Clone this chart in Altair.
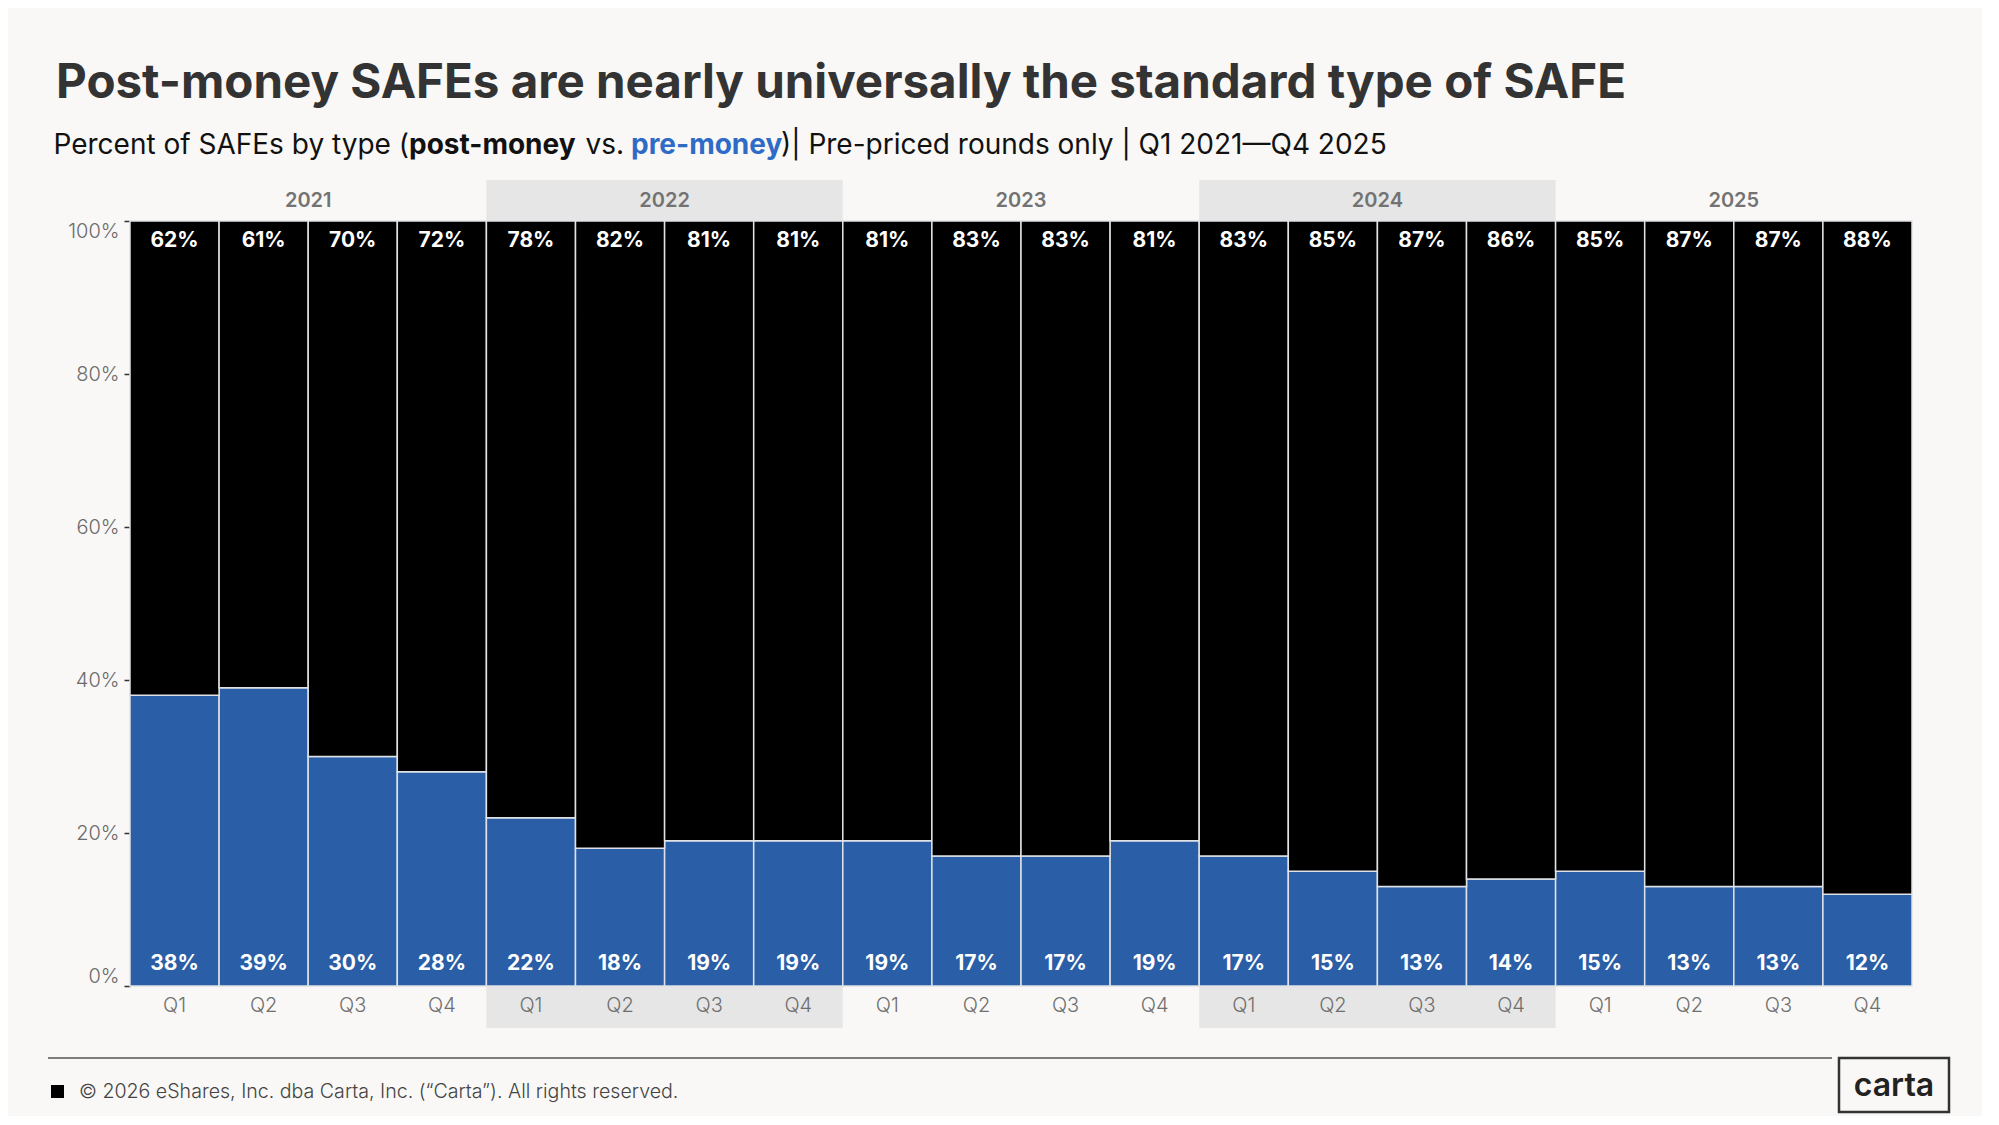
import altair as alt
import pandas as pd

years = ["2021", "2022", "2023", "2024", "2025"]
quarters = ["Q1", "Q2", "Q3", "Q4"]
post_money = [62, 61, 70, 72, 78, 82, 81, 81, 81, 83, 83, 81, 83, 85, 87, 86, 85, 87, 87, 88]
pre_money = [38, 39, 30, 28, 22, 18, 19, 19, 19, 17, 17, 19, 17, 15, 13, 14, 15, 13, 13, 12]
shaded_years = ["2022", "2024"]

FONT = "Inter"
BG = "#F9F8F6"
BLUE = "#2A5EA7"
BAND = "#E6E6E6"

W, H = 1782, 765

rows = []
for i in range(len(post_money)):
    rows.append({
        "idx": i,
        "year": years[i // 4],
        "quarter": quarters[i % 4],
        "post": post_money[i],
        "pre": pre_money[i],
    })
df = pd.DataFrame(rows)

ydf = pd.DataFrame({"year": years, "yi": list(range(len(years)))})
ydf["shaded"] = ydf["year"].isin(shaded_years)

xscale = alt.Scale(domain=[0, len(post_money)], nice=False, zero=False)
yscale = alt.Scale(domain=[0, 1], nice=False)

base = alt.Chart(df).transform_calculate(
    x0="datum.idx", x1="datum.idx + 1", xm="datum.idx + 0.5",
    pre_f="datum.pre / 100",
    pre_lab="datum.pre + '%'", post_lab="datum.post + '%'",
)

# year bands (top and bottom)
band_base = alt.Chart(ydf).transform_filter("datum.shaded").transform_calculate(
    b0="datum.yi * 4", b1="datum.yi * 4 + 4"
)
top_band = band_base.mark_rect(color=BAND).encode(
    x=alt.X("b0:Q", scale=xscale, axis=None), x2="b1:Q",
    y=alt.value(-41), y2=alt.value(0),
)
bottom_band = band_base.mark_rect(color=BAND).encode(
    x=alt.X("b0:Q", scale=xscale, axis=None), x2="b1:Q",
    y=alt.value(H), y2=alt.value(H + 42),
)

year_labels = alt.Chart(ydf).transform_calculate(bm="datum.yi * 4 + 2").mark_text(
    font=FONT, fontSize=20, fontWeight=600, color="#737373", baseline="middle"
).encode(
    x=alt.X("bm:Q", scale=xscale, axis=None), y=alt.value(-20), text="year:N"
)

pre_bars = base.mark_rect(color=BLUE, stroke="#dfe2e6", strokeWidth=1.5).encode(
    x=alt.X("x0:Q", scale=xscale, axis=None), x2="x1:Q",
    y=alt.Y("pre_f:Q", scale=yscale, title=None,
            axis=alt.Axis(format="%", values=[0, 0.2, 0.4, 0.6, 0.8, 1.0], labelFlush=True,
                          domain=False, grid=False, ticks=True, tickSize=6, tickColor="#333333",
                          tickWidth=1.5, labelColor="#6b6b6b", labelFontSize=20, labelFont=FONT,
                          labelFontWeight=300, labelPadding=5)),
    y2=alt.datum(0),
)
post_bars = base.mark_rect(color="#000000", stroke="#dfe2e6", strokeWidth=1.5).encode(
    x=alt.X("x0:Q", scale=xscale, axis=None), x2="x1:Q",
    y=alt.Y("pre_f:Q", scale=yscale), y2=alt.datum(1),
)

post_text = base.mark_text(font=FONT, fontSize=21, fontWeight="bold", color="white",
                           baseline="middle", dy=20).encode(
    x=alt.X("xm:Q", scale=xscale, axis=None), y=alt.datum(1), text="post_lab:N"
)
pre_text = base.mark_text(font=FONT, fontSize=21, fontWeight="bold", color="white",
                          baseline="middle", dy=-22).encode(
    x=alt.X("xm:Q", scale=xscale, axis=None), y=alt.datum(0), text="pre_lab:N"
)
q_text = base.mark_text(font=FONT, fontSize=20, fontWeight=300, color="#6f6f6f",
                        baseline="middle").encode(
    x=alt.X("xm:Q", scale=xscale, axis=None), y=alt.value(H + 20), text="quarter:N"
)

one = pd.DataFrame({"a": [0]})


def txt(s, x, y, size, color="#111111", weight="normal", align="left", baseline="alphabetic"):
    return alt.Chart(one).mark_text(
        text=s, font=FONT, fontSize=size, color=color, fontWeight=weight,
        align=align, baseline=baseline
    ).encode(x=alt.value(x), y=alt.value(y))


SUB = 28
title = txt("Post-money SAFEs are nearly universally the standard type of SAFE",
            -74, -123, 47.5, color="#333333", weight="bold")
sub1 = txt("Percent of SAFEs by type (", 279, -67, SUB, align="right")
sub2 = txt("post-money", 279, -67, SUB, weight="bold")
sub3 = txt("vs.", 494, -67, SUB, align="right")
sub4 = txt("pre-money", 501, -67, SUB, color="#2E6BC6", weight="bold")
sub5 = txt(")| Pre-priced rounds only | Q1 2021\u2014Q4 2025", 651, -67, SUB)

footer_line = alt.Chart(one).mark_rule(color="#555555", strokeWidth=1.5).encode(
    x=alt.value(-82), x2=alt.value(1702), y=alt.value(837)
)
square = alt.Chart(one).mark_rect(color="#000000").encode(
    x=alt.value(-79), x2=alt.value(-66), y=alt.value(864), y2=alt.value(877)
)
footer_text = txt("\u00a9 2026 eShares, Inc. dba Carta, Inc. (\u201cCarta\u201d). All rights reserved.",
                  -51, 871, 19.6, color="#444444", weight=300, baseline="middle")
logo_box = alt.Chart(one).mark_rect(fillOpacity=0, stroke="#333333", strokeWidth=2.5).encode(
    x=alt.value(1709), x2=alt.value(1819), y=alt.value(837), y2=alt.value(891)
)
logo_text = txt("carta", 1764, 865, 32, color="#222222", weight=600, align="center",
                baseline="middle")

chart = alt.layer(
    top_band, bottom_band, pre_bars, post_bars, post_text, pre_text, q_text, year_labels,
    title, sub1, sub2, sub3, sub4, sub5, footer_line, square, footer_text, logo_box, logo_text,
).properties(
    width=W, height=H,
    autosize=alt.AutoSizeParams(type="none"),
    padding={"left": 122, "top": 213, "right": 70, "bottom": 130},
    background=BG,
).configure_view(stroke="transparent")

chart.save("out.html", embed_options={"renderer": "svg", "actions": False})
